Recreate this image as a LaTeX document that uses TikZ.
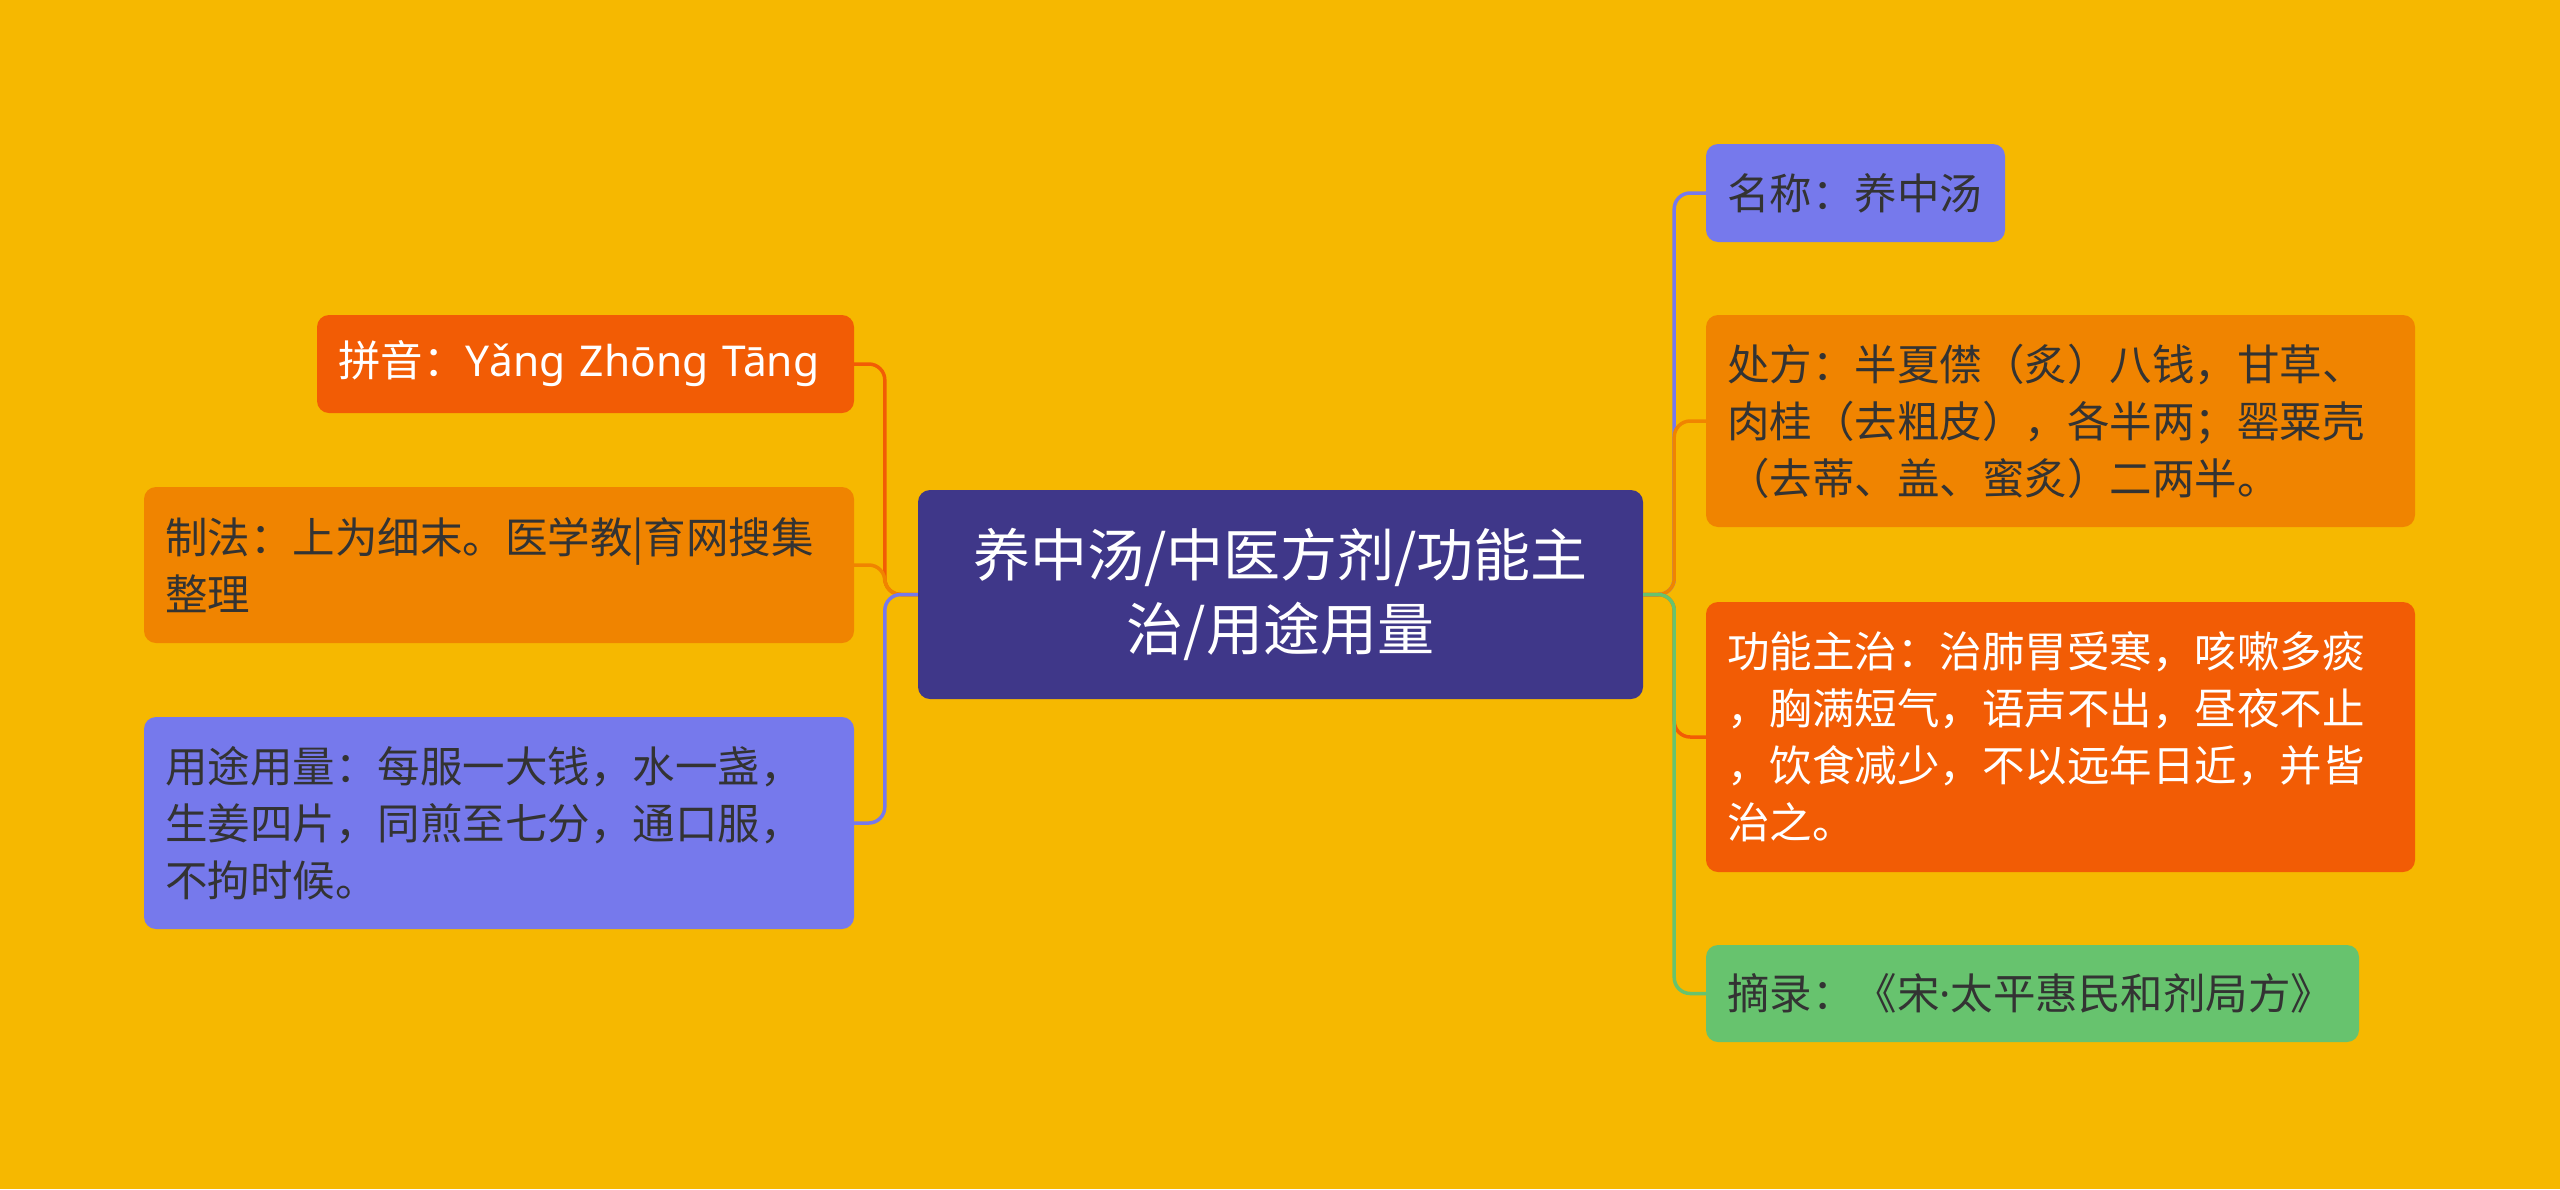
\documentclass[tikz,border=0pt]{standalone}
\usepackage{fontspec}
\setmainfont{Noto Sans CJK SC}
\newfontfamily\latinfont{Noto Sans}
\definecolor{bgc}{HTML}{F6B800}
\definecolor{cdark}{HTML}{3F3789}
\definecolor{cred}{HTML}{F25C05}
\definecolor{corange}{HTML}{F08400}
\definecolor{cblue}{HTML}{7679EC}
\definecolor{cgreen}{HTML}{67C36E}
\definecolor{ctext}{HTML}{333333}
\tikzset{
  box/.style={rounded corners=12pt, inner xsep=21pt, inner ysep=0pt, align=left,
    font=\fontsize{42.5}{57}\selectfont, anchor=center},
  rootbox/.style={rounded corners=12pt, inner sep=0pt, align=center, fill=cdark,
    text=white, font=\fontsize{57}{74}\selectfont, anchor=center},
  conn/.style={line width=3.5pt, rounded corners=16pt}
}
\begin{document}
\begin{tikzpicture}[x=1pt,y=-1pt]
\fill[bgc] (0,0) rectangle (2560,1189);
\useasboundingbox (0,0) rectangle (2560,1189);
% root
\node[rootbox, minimum width=725pt, minimum height=209pt, text width=700pt] (root) at (1280.5,594.5)
  {养中汤/中医方剂/功能主\\治/用途用量};
% left nodes
\node[box, fill=cred, text=white, minimum width=537pt, minimum height=98pt, text width=495pt] (pinyin) at (585.5,364)
  {拼音：{\latinfont Yǎng Zhōng Tāng}};
\node[box, fill=corange, text=ctext, minimum width=710pt, minimum height=156pt, text width=668pt] (zhifa) at (499,565)
  {制法：上为细末。医学教|育网搜集\\整理};
\node[box, fill=cblue, text=ctext, minimum width=710pt, minimum height=212pt, text width=668pt] (yongtu) at (499,823)
  {用途用量：每服一大钱，水一盏，\\生姜四片，同煎至七分，通口服，\\不拘时候。};
% right nodes
\node[box, fill=cblue, text=ctext, minimum width=299pt, minimum height=98pt, text width=257pt] (mingcheng) at (1855.5,193)
  {名称：养中汤};
\node[box, fill=corange, text=ctext, minimum width=709pt, minimum height=212pt, text width=667pt] (chufang) at (2060.5,421)
  {处方：半夏僸（炙）八钱，甘草、\\肉桂（去粗皮），各半两；罂粟壳\\（去蒂、盖、蜜炙）二两半。};
\node[box, fill=cred, text=white, minimum width=709pt, minimum height=270pt, text width=667pt] (gongneng) at (2060.5,737)
  {功能主治：治肺胃受寒，咳嗽多痰\\，胸满短气，语声不出，昼夜不止\\，饮食减少，不以远年日近，并皆\\治之。};
\node[box, fill=cgreen, text=ctext, minimum width=653pt, minimum height=97pt, text width=611pt] (zhailu) at (2032.5,993.5)
  {摘录：《宋{\latinfont ·}太平惠民和剂局方》};
% connectors left
\draw[conn, cred] (root.west) -- ++(-33,0) |- (pinyin.east);
\draw[conn, corange] (root.west) -- ++(-33,0) |- (zhifa.east);
\draw[conn, cblue] (root.west) -- ++(-33,0) |- (yongtu.east);
% connectors right
\draw[conn, cblue] (root.east) -- ++(31,0) |- (mingcheng.west);
\draw[conn, corange] (root.east) -- ++(31,0) |- (chufang.west);
\draw[conn, cred] (root.east) -- ++(31,0) |- (gongneng.west);
\draw[conn, cgreen] (root.east) -- ++(31,0) |- (zhailu.west);
\end{tikzpicture}
\end{document}
